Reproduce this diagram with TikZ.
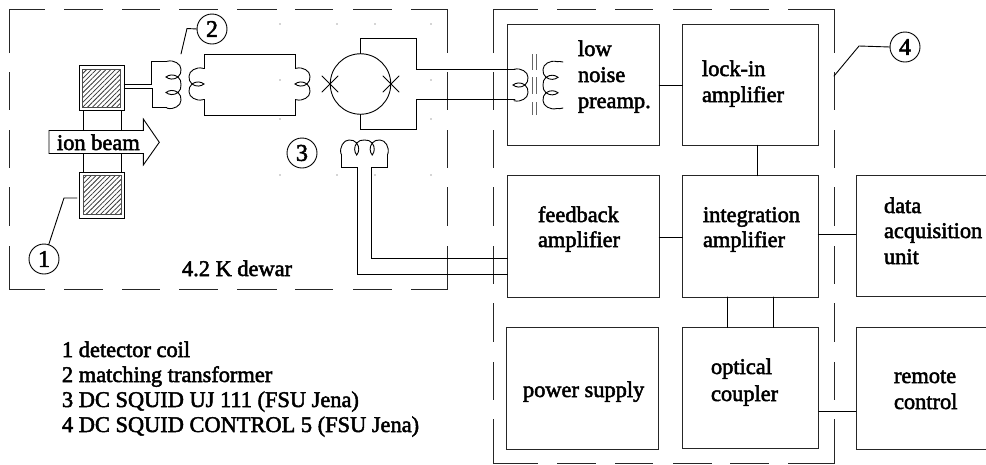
\documentclass[tikz,border=0pt]{standalone}
\usepackage{fontspec}
\setmainfont[FakeBold=2.2]{Liberation Serif}
\usetikzlibrary{arrows.meta,patterns.meta,calc}
\tikzset{
  wire/.style={line width=0.9pt,line cap=round,line join=miter},
  dashline/.style={line width=1pt,draw=black!85},
  blockbox/.style={draw,line width=1pt,draw=black!85,rectangle,anchor=north west,inner sep=0pt,outer sep=0pt},
  openbox/.style={rectangle,anchor=north west,inner sep=0pt,outer sep=0pt},
  lbl/.style={anchor=base west,inner sep=0pt,outer sep=0pt,font=\fontsize{22.4}{26}\selectfont},
  callout/.style={draw,circle,line width=0.9pt,minimum size=30pt,inner sep=0pt,outer sep=0pt,font=\fontsize{24}{26}\selectfont},
  hatch/.style={pattern={Lines[angle=45,distance=3.4pt,line width=0.75pt]},pattern color=black!80,draw=black!70,line width=0.6pt,rectangle,anchor=north west,inner sep=0pt,outer sep=0pt},
  coilsq/.style={draw,line width=0.9pt,rectangle,anchor=north west,inner sep=0pt,outer sep=0pt},
}
% \coil{ox}{oy}{xvec}{yvec}{number of lenses}
\newcommand{\coil}[5]{%
  \begin{scope}[shift={(#1,#2)},x={#3},y={#4}]
    \draw[wire] (1,-15.7) .. controls (8,-17.5) and (15,-13) .. (15,-7.75)
       .. controls (15,-4.5) and (14.5,-2) .. (12,0);
    \foreach \i in {1,...,#5}{
      \pgfmathsetmacro{\yy}{(\i-1)*15.5}
      \begin{scope}[yshift=0pt,shift={(0,\yy)}]
      \draw[wire] (12,0) .. controls (8,-3) and (3,-2.5) .. (0,0)
         .. controls (3,2.5) and (8,3) .. (12,0);
      \end{scope}
    }
    \pgfmathsetmacro{\yz}{(#5-1)*15.5}
    \begin{scope}[shift={(0,\yz)}]
      \draw[wire] (12,0) .. controls (14.5,2) and (15,4.5) .. (15,7.75)
       .. controls (15,13) and (8,17.5) .. (1,15.7);
    \end{scope}
    \ifnum#5>1
    \foreach \i in {2,...,#5}{
      \pgfmathsetmacro{\yy}{(\i-2)*15.5}
      \begin{scope}[shift={(0,\yy)}]
      \draw[wire] (12,0) .. controls (14.5,2) and (15,4.5) .. (15,7.75)
         .. controls (15,11) and (14.5,13.5) .. (12,15.5);
      \end{scope}
    }
    \fi
  \end{scope}}
\begin{document}
\begin{tikzpicture}[x=1pt,y=-1pt]
\useasboundingbox[fill=white] (0,0) rectangle (986,464);

% ---- dewar dashed frame
\foreach \a/\b in {64/103,122/160,179/218,237/277,295/333,353/392}{
  \draw[dashline] (\a,9) -- (\b,9);
  \draw[dashline] (\a,289) -- (\b,289);}
\foreach \a/\b in {72/110,130/168,187/226}{
  \draw[dashline] (9,\a) -- (9,\b);
  \draw[dashline] (447,\a) -- (447,\b);}
\draw[dashline] (9,53) -- (9,9) -- (45,9);
\draw[dashline] (411,9) -- (447,9) -- (447,53);
\draw[dashline] (9,246) -- (9,289) -- (45,289);
\draw[dashline] (411,289) -- (447,289) -- (447,246);

% ---- electronics dashed frame
\foreach \a/\b in {557/596,615/653,673/712,730/769}{
  \draw[dashline] (\a,9) -- (\b,9);
  \draw[dashline] (\a,463) -- (\b,463);}
\foreach \a/\b in {72/110,130/168,187/226,246/284,303/342,362/400}{
  \draw[dashline] (493,\a) -- (493,\b);
  \draw[dashline] (834,\a) -- (834,\b);}
\draw[dashline] (493,53) -- (493,9) -- (538,9);
\draw[dashline] (788,9) -- (834,9) -- (834,53);
\draw[dashline] (493,419) -- (493,463) -- (538,463);
\draw[dashline] (788,463) -- (834,463) -- (834,419);

% ---- tiny marks
\foreach \p in {(280,24),(337,24),(375,24),(431,24),(280,80),(431,80),(280,119),(431,119),(280,175),(337,175),(375,175),(431,175)}{
  \fill[black!70] \p circle (0.6);}

% ---- blocks
\node[blockbox,minimum width=152pt,minimum height=121pt] (lown) at (507.3,24.3) {};
\node[blockbox,minimum width=136pt,minimum height=121pt] (lock) at (682.3,24.3) {};
\node[blockbox,minimum width=152pt,minimum height=121.3pt] (feed) at (507.3,175.7) {};
\node[blockbox,minimum width=136pt,minimum height=121.3pt] (intg) at (682.3,175.7) {};
\node[openbox,minimum width=130pt,minimum height=121.3pt] (data) at (856,175.5) {};
\node[blockbox,minimum width=152pt,minimum height=121.3pt] (powr) at (506.7,327.7) {};
\node[blockbox,minimum width=136.5pt,minimum height=121.3pt] (optc) at (682.3,327.4) {};
\node[openbox,minimum width=130pt,minimum height=121.6pt] (remt) at (856,327.4) {};
\draw[line width=1pt,draw=black!85] (data.north east) -- (data.north west) -- (data.south west) -- (data.south east);
\draw[line width=1pt,draw=black!85] (remt.north east) -- (remt.north west) -- (remt.south west) -- (remt.south east);

% ---- block connectors
\draw[wire] (lown.east |- 0,85) -- (lock.west |- 0,85);
\draw[wire] (lock.south -| 757.7,0) -- (intg.north -| 757.7,0);
\draw[wire] (feed.east |- 0,237.3) -- (intg.west |- 0,237.3);
\draw[wire] (intg.east |- 0,234.3) -- (data.west |- 0,234.3);
\draw[wire] (intg.south -| 727.7,0) -- (optc.north -| 727.7,0);
\draw[wire] (intg.south -| 773.3,0) -- (optc.north -| 773.3,0);
\draw[wire] (optc.east |- 0,411) -- (remt.west |- 0,411);

% ---- block labels
\node[lbl] (t1) at (578,56) {low};
\node[lbl] (t2) at (578,82) {noise};
\node[lbl] (t3) at (578,108) {preamp.};
\node[lbl] (t4) at (702,76) {lock-in};
\node[lbl] (t5) at (702,102) {amplifier};
\node[lbl] (t6) at (538,222) {feedback};
\node[lbl] (t7) at (538,247) {amplifier};
\node[lbl] (t8) at (703,222) {integration};
\node[lbl] (t9) at (703,247) {amplifier};
\node[lbl] (t10) at (884,213) {data};
\node[lbl] (t11) at (884,238) {acquisition};
\node[lbl] (t12) at (884,264) {unit};
\node[lbl] (t13) at (523,397) {power supply};
\node[lbl] (t14) at (711,374) {optical};
\node[lbl] (t15) at (711,401) {coupler};
\node[lbl] (t16) at (894,383) {remote};
\node[lbl] (t17) at (894,409) {control};
\node[lbl] (t18) at (182,276) {4.2 K dewar};
\node[lbl] (l1) at (62,357) {1 detector coil};
\node[lbl] (l2) at (62,382) {2 matching transformer};
\node[lbl] (l3) at (62,407) {3 DC SQUID UJ 111 (FSU Jena)};
\node[lbl] (l4) at (62,432) {4 DC SQUID CONTROL 5 (FSU Jena)};

% ---- detector coil
\node[coilsq,minimum width=45pt,minimum height=45pt] (cu) at (79.3,65.7) {};
\node[hatch,minimum width=38pt,minimum height=38pt] (hu) at (82.7,69.3) {};
\node[coilsq,minimum width=45.5pt,minimum height=45.7pt] (cl) at (79.3,172.3) {};
\node[hatch,minimum width=38pt,minimum height=38.6pt] (hl) at (83,175.7) {};
\draw[wire] (cu.south -| 83,0) -- (83,130.5);
\draw[wire] (cu.south -| 121,0) -- (121,130.5);
\draw[wire] (83,153.5) -- (cl.north -| 83,0);
\draw[wire] (121,153.5) -- (cl.north -| 121,0);

% ---- ion beam arrow
\draw[wire,fill=white] (49,130.5) -- (143.3,130.5) -- (143.3,119) -- (159.3,142.3) -- (143.3,165) -- (143.3,153.5) -- (49,153.5) -- cycle;
\node[lbl] (ion) at (57,150) {ion beam};

% ---- matching transformer
\coordinate (w1) at (151,84.3);
\coordinate (w2) at (152,88.3);
\draw[wire] (cu.east |- w1) -- (w1) -- (151,61.3) -- (167,61.3);
\draw[wire] (cu.east |- w2) -- (w2) -- (152,107.3) -- (167,107.3);
\coil{166}{77}{(1pt,0pt)}{(0pt,-1pt)}{2}
\coil{204}{84}{(-1pt,0pt)}{(0pt,-1pt)}{1}
\coil{295}{84}{(1pt,0pt)}{(0pt,-1pt)}{1}
\draw[wire] (203,68.3) -- (204,68.3) -- (204,54) -- (295,54) -- (295,68.3) -- (296,68.3);
\draw[wire] (203,99.7) -- (204,99.7) -- (204,115) -- (295,115) -- (295,99.7) -- (296,99.7);

% ---- SQUID
\node[draw,circle,line width=0.9pt,minimum size=60.5pt,inner sep=0pt,outer sep=0pt] (sq) at (360.5,84) {};
\draw[wire] (322,76) -- (338,92) (322,92) -- (338,76);
\draw[wire] (383,76) -- (399,92) (383,92) -- (399,76);
\coordinate (pin1) at (515,69.7);
\coordinate (pin2) at (515,99.7);
\draw[wire] (sq.north) -- (sq.north |- 0,38.7) -- (416.3,38.7) -- (416.3,69.7) -- (pin1);
\draw[wire] (sq.south) -- (sq.south |- 0,129.3) -- (416.3,129.3) -- (416.3,99.7) -- (pin2);

% ---- preamp transformer
\coil{513}{85}{(1pt,0pt)}{(0pt,-1pt)}{1}
\foreach \a/\b in {54/70,77/94,102/115}{
  \draw[line width=1pt,draw=black!60] (532.7,\a) -- (532.7,\b);
  \draw[line width=1pt,draw=black!60] (536.4,\a) -- (536.4,\b);}
\coil{558}{77.3}{(-1pt,0pt)}{(0pt,-1pt)}{2}
\draw[wire] (557,61.6) .. controls (559,61.2) and (561,61.6) .. (563,62);
\draw[wire] (557,108.5) .. controls (559,108.9) and (561,108.5) .. (563,108);

% ---- feedback coil
\coil{356.7}{155}{(0pt,1pt)}{(1pt,0pt)}{2}
\coordinate (fb1) at (507.3,274);
\coordinate (fb2) at (507.3,258.7);
\draw[wire] (341,154) -- (341,167.7) -- (357.3,167.7) -- (357.3,274) -- (fb1);
\draw[wire] (387,154) -- (387,167.7) -- (371.7,167.7) -- (371.7,258.7) -- (fb2);

% ---- call-outs
\node[callout] (c1) at (44,259) {1};
\node[callout] (c2) at (212,29) {2};
\node[callout] (c3) at (302,153) {3};
\node[callout] (c4) at (905,47) {4};
\coordinate (a1) at (77,198);
\coordinate (a2) at (181,54);
\coordinate (a4) at (834,76);
\draw[wire] (a1) -- (64,198) -- (c1);
\draw[wire] (a2) -- (187,28.5) -- (c2.west);
\draw[wire] (a4) -- (859,46) -- (c4.west);
\end{tikzpicture}
\end{document}
